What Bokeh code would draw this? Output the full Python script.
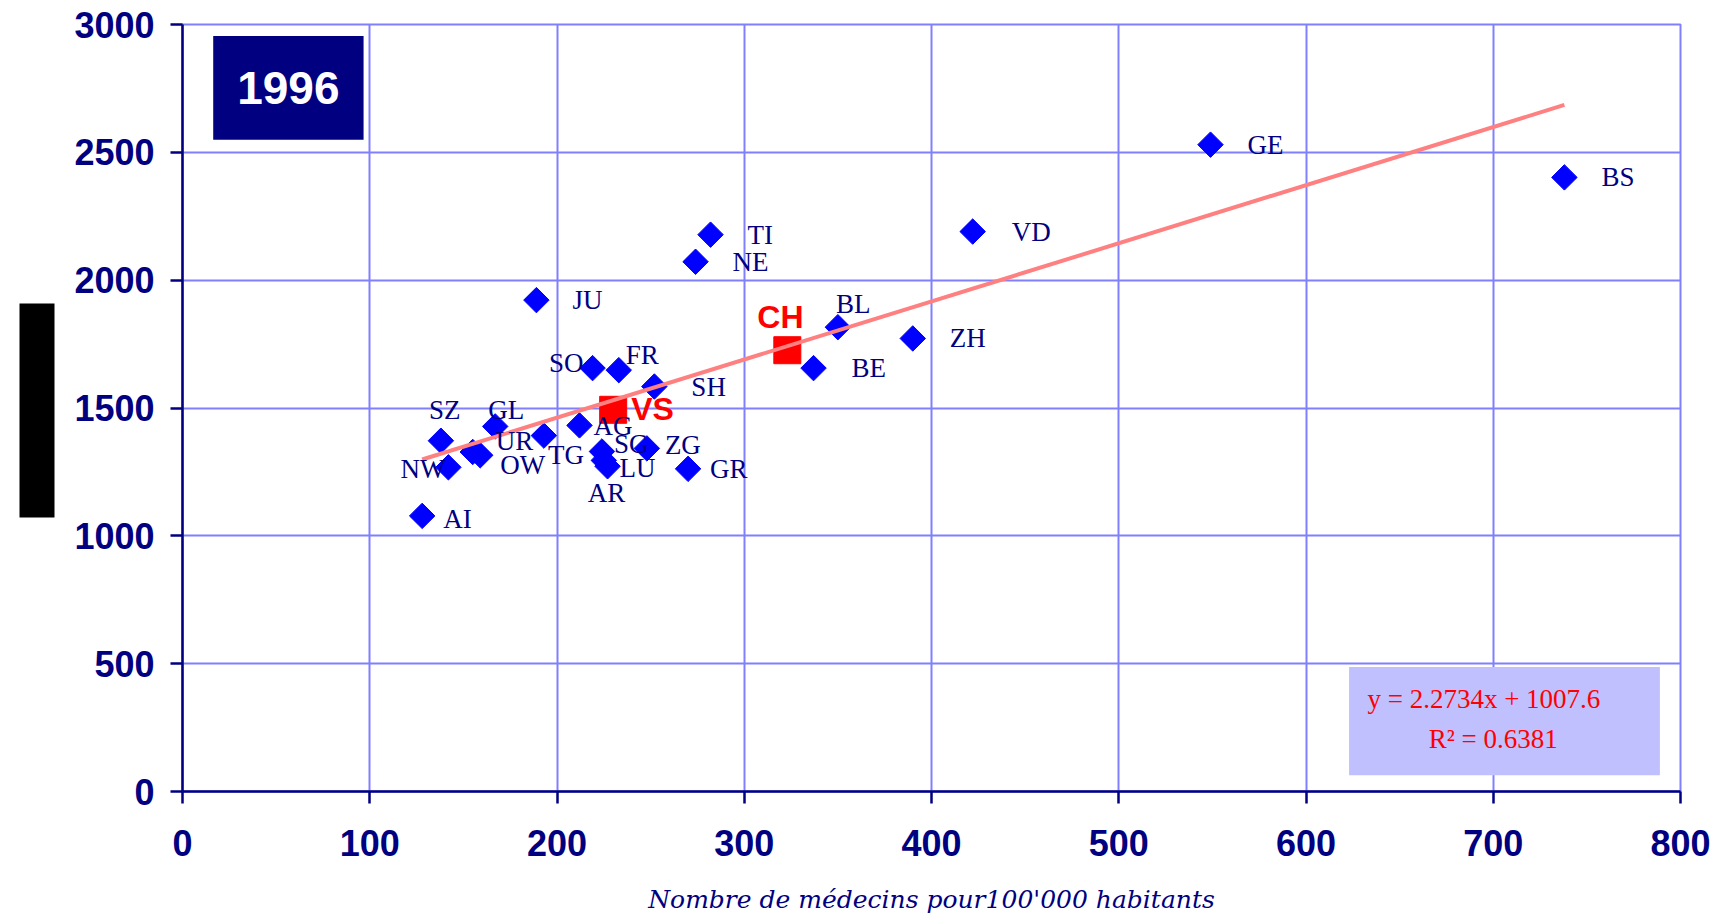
from bokeh.plotting import figure
from bokeh.models import (ColumnDataSource, BoxAnnotation, Label, Range1d, FixedTicker,
                          LinearAxis)
from bokeh.core.properties import value
from bokeh.embed import file_html
from bokeh.resources import INLINE

# ---------------- data ----------------
cantons = ["AI", "NW", "SZ", "UR", "OW", "GL", "JU", "TG", "AG", "SO", "SG", "AR", "LU",
           "FR", "ZG", "SH", "GR", "NE", "TI", "BE", "BL", "ZH", "VD", "GE", "BS"]
medecins = [128, 142, 138, 155, 159, 167, 189, 193, 212, 219, 224, 225, 227,
            233, 248, 252, 270, 274, 282, 337, 350, 390, 422, 549, 738]
couts = [1078, 1268, 1372, 1328, 1315, 1428, 1922, 1392, 1432, 1656, 1330, 1295, 1272,
         1648, 1342, 1584, 1262, 2072, 2178, 1656, 1816, 1772, 2190, 2530, 2402]

highlight_names = ["VS", "CH"]
highlight_medecins = [230, 323]
highlight_couts = [1493, 1726]

trend_slope = 2.2734
trend_intercept = 1007.6
r_squared = 0.6381
year_text = "1996"
x_title = "Nombre de médecins pour100'000 habitants"
x_ticks = [0, 100, 200, 300, 400, 500, 600, 700, 800]
y_ticks = [0, 500, 1000, 1500, 2000, 2500, 3000]

# ---------------- styles (label offsets in pixels) ----------------
label_offsets = {
    "AI": (21, 3, "left"), "NW": (-3, 2, "right"), "SZ": (-12, -31, "left"),
    "UR": (23, -11, "left"), "OW": (20, 10, "left"), "GL": (-7, -16, "left"),
    "JU": (36, 0, "left"), "TG": (4, 19, "left"), "AG": (14, 1, "left"),
    "SO": (-9, -5, "right"), "SG": (12, -7, "left"), "AR": (-16, 33, "left"),
    "LU": (12, 2, "left"), "FR": (7, -15, "left"), "ZG": (18, -3, "left"),
    "SH": (37, 0, "left"), "GR": (22, 0, "left"), "NE": (37, 0, "left"),
    "TI": (37, 0, "left"), "BE": (38, 0, "left"), "BL": (-2, -23, "left"),
    "ZH": (37, 0, "left"), "VD": (39, 0, "left"), "GE": (37, 0, "left"),
    "BS": (37, 0, "left"),
}
highlight_offsets = {"VS": (18, -1), "CH": (-30, -33)}

NAVY = "#000080"
GRID = "#8080FF"

src = ColumnDataSource(dict(
    x=medecins, y=couts, name=cantons,
    dx=[label_offsets[c][0] for c in cantons],
    dy=[label_offsets[c][1] for c in cantons],
    align=[label_offsets[c][2] for c in cantons],
))
hsrc = ColumnDataSource(dict(
    x=highlight_medecins, y=highlight_couts, name=highlight_names,
    dx=[highlight_offsets[c][0] for c in highlight_names],
    dy=[highlight_offsets[c][1] for c in highlight_names],
))

all_x = medecins + highlight_medecins
trend_x = [min(all_x), max(all_x)]
trend_y = [trend_slope * v + trend_intercept for v in trend_x]

p = figure(width=1722, height=916, output_backend="svg", toolbar_location=None,
           title=None,
           x_range=Range1d(0, 800), y_range=Range1d(0, 3000),
           min_border_left=182, min_border_right=42, min_border_top=24,
           min_border_bottom=123)

p.background_fill_color = "white"
p.border_fill_color = "white"
p.outline_line_color = GRID
p.outline_line_width = 2

p.xaxis.ticker = FixedTicker(ticks=x_ticks)
p.yaxis.ticker = FixedTicker(ticks=y_ticks)
p.xgrid.ticker = FixedTicker(ticks=x_ticks)
p.ygrid.ticker = FixedTicker(ticks=y_ticks)
for g in (p.xgrid, p.ygrid):
    g.grid_line_color = GRID
    g.grid_line_width = 2

for ax in (p.xaxis[0], p.yaxis[0]):
    ax.axis_line_color = NAVY
    ax.axis_line_width = 2.5
    ax.major_tick_line_color = NAVY
    ax.major_tick_line_width = 2.5
    ax.major_tick_out = 12
    ax.major_tick_in = 0
    ax.minor_tick_line_color = None
    ax.major_label_text_font = "Liberation Sans"
    ax.major_label_text_font_style = "bold"
    ax.major_label_text_font_size = "36px"
    ax.major_label_text_color = NAVY

p.yaxis.major_label_standoff = 16
p.xaxis.major_label_standoff = 26
p.xaxis.axis_label = x_title
p.xaxis.axis_label_text_font = "DejaVu Serif"
p.xaxis.axis_label_text_font_style = "italic"
p.xaxis.axis_label_text_font_size = "25px"
p.xaxis.axis_label_text_color = NAVY
p.xaxis.axis_label_standoff = 26

# black bar left of the y axis: drawn as one very thick tick of an extra side axis
bar_axis = LinearAxis(ticker=FixedTicker(ticks=[1490]))
bar_axis.axis_line_color = None
bar_axis.minor_tick_line_color = None
bar_axis.major_tick_line_color = "black"
bar_axis.major_tick_line_width = 214
bar_axis.major_tick_line_cap = "butt"
bar_axis.major_tick_out = 52
bar_axis.major_tick_in = -17
bar_axis.major_label_standoff = 0
bar_axis.major_label_text_font_size = "1px"
bar_axis.major_label_text_color = None
p.add_layout(bar_axis, "left")

# points
p.scatter("x", "y", source=src, marker="square", size=18, angle=45, angle_units="deg",
          fill_color="#0000FF", line_color="#0000FF")
p.scatter("x", "y", source=hsrc, marker="square", size=27,
          fill_color="#FF0000", line_color="#FF0000")

# trend line
p.line(trend_x, trend_y, line_color="#FF8080", line_width=4)

# labels
p.text("x", "y", text="name", source=src, x_offset="dx", y_offset="dy",
       text_align="align", text_baseline="middle",
       text_font=value("Liberation Serif"), text_font_size="27px", text_color=NAVY)
p.text("x", "y", text="name", source=hsrc, x_offset="dx", y_offset="dy",
       text_align="left", text_baseline="middle",
       text_font=value("Liberation Sans"), text_font_style="bold",
       text_font_size="32px", text_color="#FF0000")

# year box
p.add_layout(BoxAnnotation(left=16.4, right=96.7, bottom=2549, top=2955,
                           fill_color=NAVY, fill_alpha=1, line_color=None))
p.add_layout(Label(x=56.5, y=2752, text=year_text, text_align="center",
                   text_baseline="middle", text_font="Liberation Sans",
                   text_font_style="bold", text_font_size="46px", text_color="white"))

# regression box
p.add_layout(BoxAnnotation(left=623, right=789, bottom=64, top=487,
                           fill_color="#C0C0FF", fill_alpha=1, line_color=None))
p.add_layout(Label(x=695, y=363, text=f"y = {trend_slope}x + {trend_intercept}",
                   text_align="center", text_baseline="middle",
                   text_font="Liberation Serif", text_font_size="27px", text_color="#FF0000"))
p.add_layout(Label(x=700, y=207, text=f"R\u00b2 = {r_squared}",
                   text_align="center", text_baseline="middle",
                   text_font="Liberation Serif", text_font_size="27px", text_color="#FF0000"))

open("out.html", "w").write(file_html(p, INLINE))
